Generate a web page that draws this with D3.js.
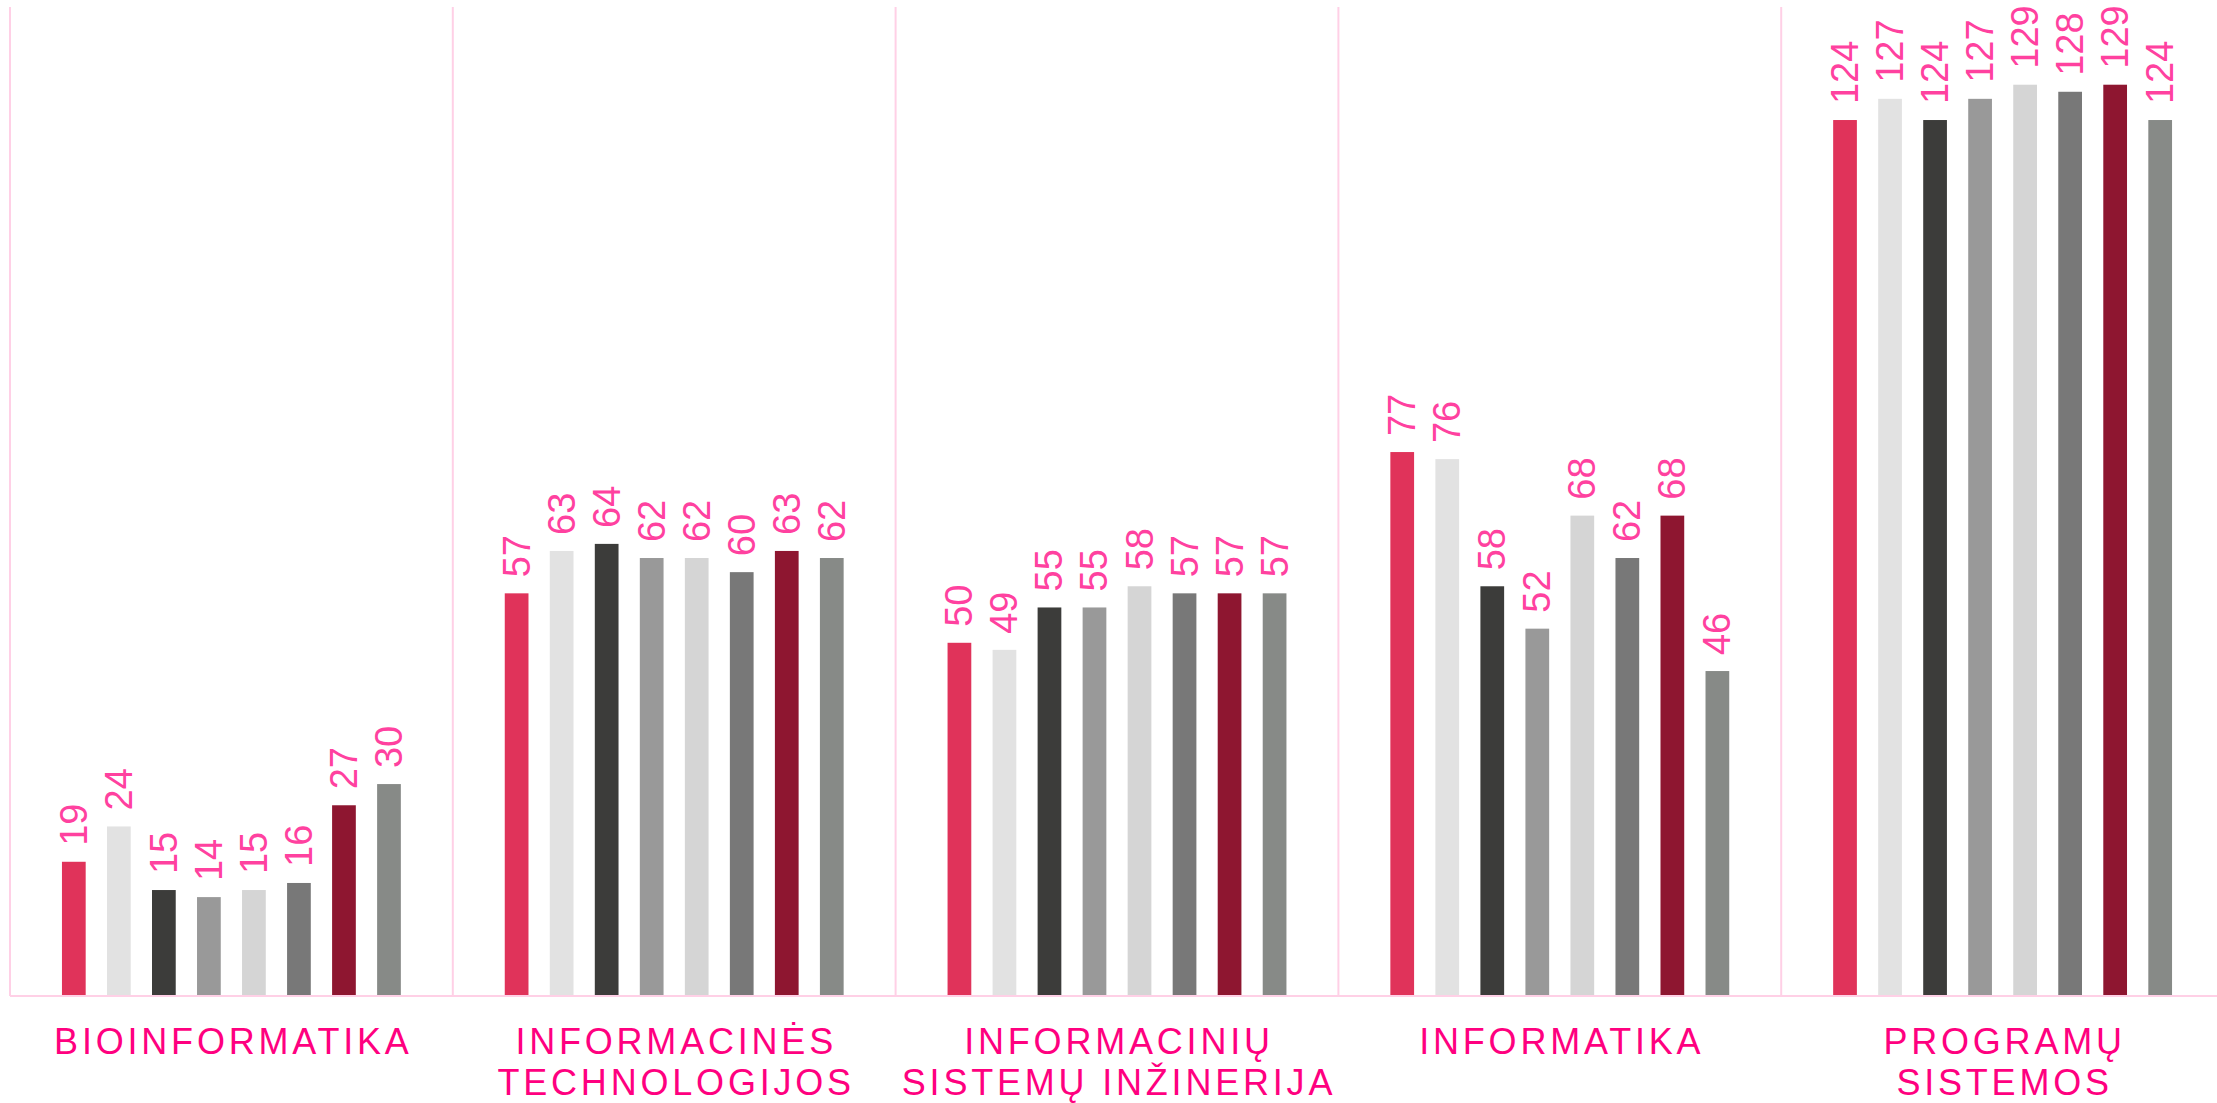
<!DOCTYPE html>
<html>
<head>
<meta charset="utf-8">
<script src="https://cdn.jsdelivr.net/npm/d3@7"></script>
<style>
  body { margin: 0; background: #fff; }
  svg { display: block; font-family: "Liberation Sans", Arial, sans-serif; }
</style>
</head>
<body>
<svg width="2217" height="1103"></svg>
<script>
var svg = d3.select("svg"),
    width = +svg.attr("width"),
    height = +svg.attr("height");

// study programmes (x groups), label lines
var programs = [ 'Bioinformatika', 'Informacinės technologijos', 'Informacinių sistemų inžinerija', 'Informatika', 'Programų sistemos' ];
var programLines = [
  [ 'BIOINFORMATIKA' ],
  [ 'INFORMACINĖS', 'TECHNOLOGIJOS' ],
  [ 'INFORMACINIŲ', 'SISTEMŲ INŽINERIJA' ],
  [ 'INFORMATIKA' ],
  [ 'PROGRAMŲ', 'SISTEMOS' ]
];
var series = [ 's1', 's2', 's3', 's4', 's5', 's6', 's7', 's8' ];
var colours = [ '#e0335a', '#e2e2e2', '#3c3c3a', '#999999', '#d5d5d5', '#787878', '#8e1630', '#878a87' ];

var bioinformatika = [ 19, 24, 15, 14, 15, 16, 27, 30 ];
var infTechnologijos = [ 57, 63, 64, 62, 62, 60, 63, 62 ];
var infSistemuInz = [ 50, 49, 55, 55, 58, 57, 57, 57 ];
var informatika = [ 77, 76, 58, 52, 68, 62, 68, 46 ];
var programuSistemos = [ 124, 127, 124, 127, 129, 128, 129, 124 ];
var values = [ bioinformatika, infTechnologijos, infSistemuInz, informatika, programuSistemos ];

var gridColour = '#ffd0e6';

var x0 = d3.scaleBand()
    .domain(programs)
    .range([10, 2224]);

var x1 = d3.scaleBand()
    .domain(series)
    .range([0, x0.bandwidth()])
    .paddingInner(0.473)
    .paddingOuter(1.154);

var y = d3.scaleLinear()
    .domain([0, 140])
    .range([996, 7]);

// vertical separators
svg.append("g")
    .attr("class", "grid")
  .selectAll("line")
  .data(programs)
  .enter().append("line")
    .attr("x1", d => x0(d))
    .attr("x2", d => x0(d))
    .attr("y1", y(140))
    .attr("y2", y(0))
    .attr("stroke", gridColour)
    .attr("stroke-width", 2);

var group = svg.append("g")
    .attr("class", "groups")
  .selectAll("g")
  .data(programs)
  .enter().append("g")
    .attr("transform", d => "translate(" + x0(d) + ",0)");

var cells = (d, i) => values[i].map((v, j) => ({ key: series[j], value: v, colour: colours[j] }));

group.selectAll("rect")
  .data(cells)
  .enter().append("rect")
    .attr("x", d => x1(d.key))
    .attr("y", d => y(d.value))
    .attr("width", x1.bandwidth())
    .attr("height", d => y(0) - y(d.value))
    .attr("fill", d => d.colour);

group.selectAll("text.value")
  .data(cells)
  .enter().append("text")
    .attr("class", "value")
    .attr("transform", d => "translate(" + (x1(d.key) + x1.bandwidth() / 2) + "," + (y(d.value) - 16) + ") rotate(-90)")
    .attr("dominant-baseline", "central")
    .attr("fill", "#ff419f")
    .style("font-size", "38px")
    .text(d => d.value);

// baseline
svg.append("line")
    .attr("x1", 10)
    .attr("x2", width)
    .attr("y1", y(0))
    .attr("y2", y(0))
    .attr("stroke", gridColour)
    .attr("stroke-width", 2);

// programme names
var label = svg.append("g")
    .attr("class", "labels")
  .selectAll("text")
  .data(programs)
  .enter().append("text")
    .attr("x", d => x0(d) + x0.bandwidth() / 2 + 2)
    .attr("y", 1054)
    .attr("text-anchor", "middle")
    .attr("fill", "#ff007f")
    .style("font-size", "36px")
    .style("letter-spacing", "3.8px");

label.selectAll("tspan")
  .data((d, i) => programLines[i])
  .enter().append("tspan")
    .attr("x", function() { return d3.select(this.parentNode).attr("x"); })
    .attr("dy", (d, i) => i ? 41 : 0)
    .text(d => d);
</script>
</body>
</html>
